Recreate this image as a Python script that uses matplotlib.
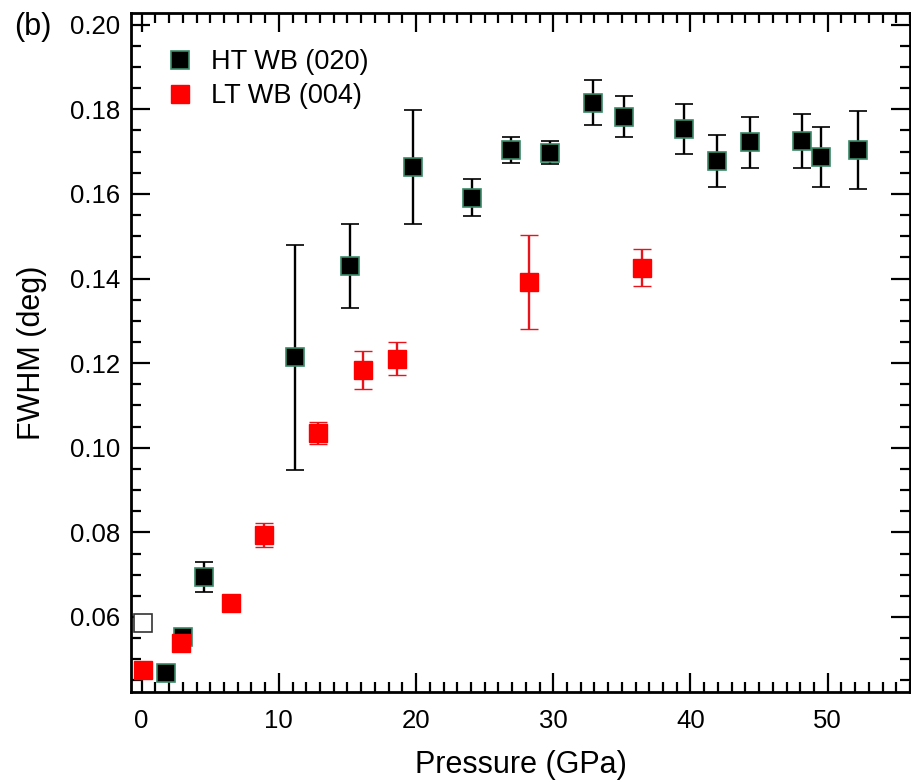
import numpy as np
import matplotlib.pyplot as plt
from matplotlib.lines import Line2D
from matplotlib.ticker import MultipleLocator

plt.rcParams['font.family'] = ['Liberation Sans', 'DejaVu Sans']

# HT WB (020)
ht_p = [1.77, 3.03, 4.53, 11.15, 15.2, 19.78, 24.1, 26.95, 29.75, 32.87,
        35.17, 39.51, 41.96, 44.31, 48.12, 49.53, 52.24]
ht_fwhm = [0.0467, 0.0553, 0.0694, 0.1214, 0.1430, 0.1664, 0.1591, 0.1704,
           0.1697, 0.1816, 0.1783, 0.1753, 0.1678, 0.1722, 0.1726, 0.1687,
           0.1703]
ht_err = [0.0, 0.001, 0.0035, 0.0266, 0.0100, 0.0134, 0.0044, 0.0030,
          0.0027, 0.0053, 0.0048, 0.0059, 0.0061, 0.0060, 0.0064, 0.0071,
          0.0092]

# LT WB (004)
lt_p = [0.07, 2.84, 6.49, 8.89, 12.85, 16.12, 18.59, 28.24, 36.44]
lt_fwhm = [0.04745, 0.0539, 0.0634, 0.0794, 0.1035, 0.1184, 0.1211, 0.1392,
           0.1426]
lt_err = [0.0, 0.0, 0.0, 0.0029, 0.0025, 0.0045, 0.0040, 0.0112, 0.0044]

# open symbol at ambient pressure
amb_p = [0.07]
amb_fwhm = [0.0586]

fig = plt.figure(figsize=(9.12, 7.82), dpi=100)
ax = fig.add_axes([0.1436, 0.1147, 0.8542, 0.8683])

ms = 12.5
ax.errorbar(ht_p, ht_fwhm, yerr=ht_err, fmt='s', ms=ms, color='black',
            mfc='black', mec='#3a8a68', mew=1.2, ecolor='black', elinewidth=1.7,
            capsize=6.5, capthick=1.7, zorder=3)
ax.errorbar(lt_p, lt_fwhm, yerr=lt_err, fmt='s', ms=ms, color='#ff0000',
            mfc='#ff0000', mec='#ff0000', mew=1.0, ecolor='#e8141c',
            elinewidth=1.7, capsize=6.5, capthick=1.7, zorder=4)
ax.plot(amb_p, amb_fwhm, 's', ms=ms, mfc='white', mec='#333333', mew=1.2,
        zorder=4)

ax.set_xlim(-0.78, 56)
ax.set_ylim(0.0422, 0.2027)
ax.xaxis.set_major_locator(MultipleLocator(10))
ax.xaxis.set_minor_locator(MultipleLocator(1))
ax.yaxis.set_major_locator(MultipleLocator(0.02))
ax.yaxis.set_minor_locator(MultipleLocator(0.005))
ax.yaxis.set_major_formatter(plt.FuncFormatter(lambda v, p: f'{v:.2f}'))

ax.tick_params(which='both', direction='in', top=True, right=True, width=1.6)
ax.tick_params(which='major', length=14, labelsize=18.5)
ax.tick_params(axis='x', which='major', pad=12)
ax.tick_params(axis='y', which='major', pad=8)
ax.tick_params(which='minor', length=7)
for s in ax.spines.values():
    s.set_linewidth(2.0)

ax.set_xlabel('Pressure (GPa)', fontsize=22, labelpad=12)
ax.set_ylabel('FWHM (deg)', fontsize=22, labelpad=16)

handles = [
    Line2D([], [], ls='none', marker='s', ms=ms, mfc='black', mec='#3a8a68',
           mew=1.2, label='HT WB (020)'),
    Line2D([], [], ls='none', marker='s', ms=ms, mfc='#ff0000', mec='#ff0000',
           label='LT WB (004)'),
]
ax.legend(handles=handles, loc='upper left', bbox_to_anchor=(0.018, 0.975),
          frameon=False, fontsize=19.5, handletextpad=0.55, labelspacing=0.3,
          handlelength=1.2, borderaxespad=0.3)

fig.text(0.016, 1 - 27 / 782, '(b)', fontsize=22, va='center', ha='left')

fig.savefig('out.png', dpi=100)
